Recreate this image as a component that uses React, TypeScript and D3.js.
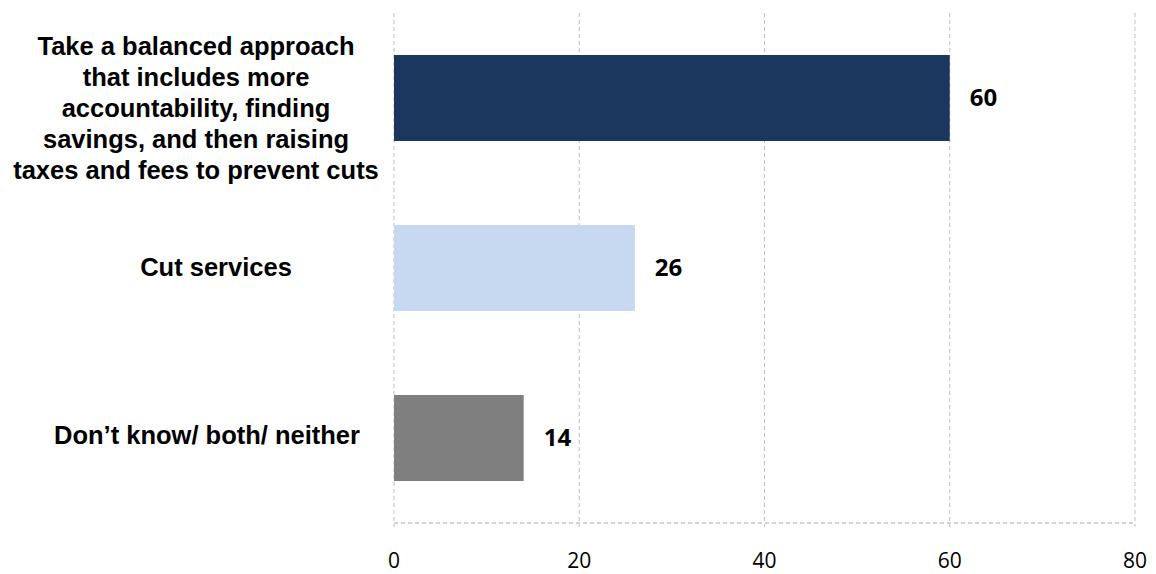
import React from "react";
import * as d3 from "d3";

const categories: string[][] = [
  ["Take a balanced approach", "that includes more", "accountability, finding", "savings, and then raising", "taxes and fees to prevent cuts"],
  ["Cut services"],
  ["Don\u2019t know/ both/ neither"],
];
const values = [60, 26, 14];
const colors = ["#1B375E", "#C6D9F1", "#7F7F7F"];
const xTicks = [0, 20, 40, 60, 80];
// layout: horizontal centre of each category label and vertical offset of its first baseline
const labelCx = [196, 216, 207];
const labelDy = [-43, 8, 6];

const W = 1156, H = 574;
const left = 394, right = 1135, top = 13, bottom = 523;

export default function App() {
  const x = d3.scaleLinear().domain([0, 80]).range([left, right]);
  const y = d3.scaleBand<number>().domain(d3.range(categories.length)).range([top, bottom]).paddingInner(0.494).paddingOuter(0.247);
  const lineH = 31;
  return (
    <svg width={W} height={H} style={{ position: "absolute", left: 0, top: 0 }}>
      <rect width={W} height={H} fill="#fff" />
      {xTicks.map((t) => (
        <line key={t} x1={x(t)} x2={x(t)} y1={top} y2={bottom + 4} stroke="#BFBFBF" strokeWidth={1} strokeDasharray="4,3" />
      ))}
      <line x1={left} x2={right} y1={bottom} y2={bottom} stroke="#A6A6A6" strokeWidth={1} strokeDasharray="4,3" />
      {xTicks.map((t) => (
        <text key={"l" + t} x={x(t)} y={568} textAnchor="middle" fontFamily="'Open Sans', sans-serif" fontSize={21} fill="#000">{t}</text>
      ))}
      {values.map((v, i) => {
        const y0 = y(i)!;
        const bw = y.bandwidth();
        const cy = y0 + bw / 2;
        const lines = categories[i];
        return (
          <g key={i}>
            <rect x={x(0)} y={y0} width={x(v) - x(0)} height={bw} fill={colors[i]} />
            <text x={x(v) + 20} y={cy + 8} fontFamily="'Open Sans', sans-serif" fontWeight="bold" fontSize={24} fill="#000">{v}</text>
            <text textAnchor="middle" fontFamily="'Liberation Sans', Arial, sans-serif" fontWeight="bold" fontSize={25.5} fill="#000">
              {lines.map((l, j) => (
                <tspan key={j} x={labelCx[i]} y={cy + labelDy[i] + j * lineH}>{l}</tspan>
              ))}
            </text>
          </g>
        );
      })}
    </svg>
  );
}
